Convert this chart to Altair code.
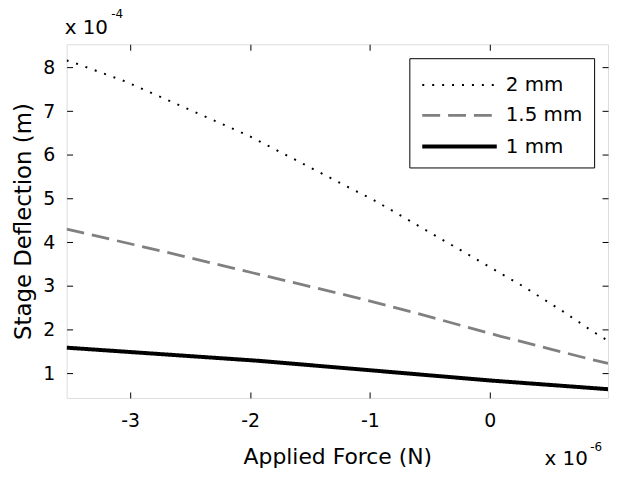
import altair as alt
import pandas as pd

# Data (force in units of 1e-6 N, deflection in units of 1e-4 m)
series_names = ["2 mm", "1.5 mm", "1 mm"]

force_2mm = [-3.53, -3.45, -3.04, -2.02, -1.13, -0.97, 0.28, 0.61, 0.87, 0.986]
defl_2mm = [8.16, 8.09, 7.68, 6.45, 5.19, 4.97, 2.99, 2.42, 1.94, 1.75]

force_15mm = [-3.53, -3.40, -2.69, -1.99, -1.09, -0.60, 0.09, 0.79, 0.986]
defl_15mm = [4.30, 4.22, 3.77, 3.31, 2.72, 2.37, 1.85, 1.36, 1.23]

force_1mm = [-3.53, -1.93, -0.94, 0.0, 0.986]
defl_1mm = [1.59, 1.29, 1.06, 0.84, 0.64]

x_ticks = [-3, -2, -1, 0]
y_ticks = [1, 2, 3, 4, 5, 6, 7, 8]
x_domain = [-3.53, 0.986]
y_domain = [0.44, 8.53]

rows = []
for name, xs_, ys_ in [("2 mm", force_2mm, defl_2mm),
                       ("1.5 mm", force_15mm, defl_15mm),
                       ("1 mm", force_1mm, defl_1mm)]:
    for i, (a, b) in enumerate(zip(xs_, ys_)):
        rows.append({"series": name, "force": a, "defl": b, "order": i})
df = pd.DataFrame(rows)

W, H = 545, 356
FONT = "DejaVu Sans"

xs = alt.Scale(domain=x_domain, nice=False, zero=False)
ys = alt.Scale(domain=y_domain, nice=False, zero=False)

leg = alt.Legend(
    title=None, orient="none", legendX=345, legendY=14,
    symbolType="M-1,0H4", symbolSize=900,
    labelFontSize=20, labelFont=FONT, labelColor="black",
    labelOffset=52, padding=11, rowPadding=4,
    fillColor="white", strokeColor="black",
)

main = alt.Chart(df).mark_line(clip=True).encode(
    x=alt.X("force:Q", scale=xs,
            axis=alt.Axis(orient="bottom", values=x_ticks, title="Applied Force (N)",
                          labelExpr="'' + datum.value",
                          ticks=False, domain=False, grid=False, labelPadding=14,
                          titlePadding=16, labelFontSize=19, titleFontSize=22,
                          labelFont=FONT, titleFont=FONT, titleFontWeight="normal",
                          labelColor="black", titleColor="black")),
    y=alt.Y("defl:Q", scale=ys,
            axis=alt.Axis(orient="left", values=y_ticks, title="Stage Deflection (m)",
                          ticks=False, domain=False, grid=False, labelPadding=12,
                          titlePadding=7, labelFontSize=19, titleFontSize=23,
                          labelFont=FONT, titleFont=FONT, titleFontWeight="normal",
                          labelColor="black", titleColor="black")),
    color=alt.Color("series:N", scale=alt.Scale(domain=series_names,
                                                range=["black", "#808080", "black"]),
                    legend=leg),
    strokeDash=alt.StrokeDash("series:N", scale=alt.Scale(domain=series_names,
                                                          range=[[2, 8], [18, 8], [1, 0]]),
                              legend=leg),
    strokeWidth=alt.StrokeWidth("series:N", scale=alt.Scale(type="ordinal", domain=series_names,
                                                            range=[2, 2.8, 4]),
                                legend=leg),
    order="order:Q",
    detail="series:N",
)


def tick_layer(x_orient, y_orient):
    return alt.Chart(df).mark_point(opacity=0).encode(
        x=alt.X("force:Q", scale=xs,
                axis=alt.Axis(orient=x_orient, offset=-H, values=x_ticks, labels=False,
                              title=None, domain=False, grid=False, ticks=True,
                              tickSize=6, tickColor="black")),
        y=alt.Y("defl:Q", scale=ys,
                axis=alt.Axis(orient=y_orient, offset=-W, values=y_ticks, labels=False,
                              title=None, domain=False, grid=False, ticks=True,
                              tickSize=6, tickColor="black")),
    )


ticks_a = tick_layer("top", "right")
ticks_b = tick_layer("bottom", "left")

ann = pd.DataFrame({"t": ["x 10", "-4", "x 10", "-6"],
                    "px": [-2, 45, 481, 527],
                    "py": [-10, -26, 424, 409],
                    "fs": [20, 12, 20, 12]})


def ann_text(i):
    r = ann.iloc[i]
    return alt.Chart(ann.iloc[[i]]).mark_text(
        align="left", baseline="alphabetic", font=FONT, fontSize=int(r.fs), color="black"
    ).encode(x=alt.value(int(r.px)), y=alt.value(int(r.py)), text="t:N")


chart = alt.layer(
    main, ticks_a, ticks_b,
    ann_text(0), ann_text(1), ann_text(2), ann_text(3),
).resolve_axis(x="independent", y="independent").properties(
    width=W, height=H,
    autosize=alt.AutoSizeParams(type="none"),
    padding={"left": 59, "top": 35, "right": 5, "bottom": 70},
).configure_view(stroke="black", strokeWidth=1.2).configure(background="white")

chart.save("out.html", embed_options={"renderer": "svg", "actions": False})
